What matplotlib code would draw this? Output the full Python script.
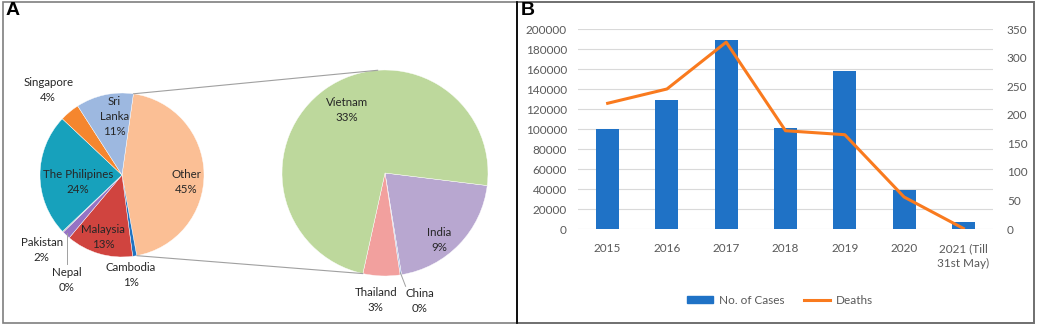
import numpy as np
import matplotlib
matplotlib.use("Agg")
import matplotlib.pyplot as plt
from matplotlib.patches import Rectangle, Patch
from matplotlib.lines import Line2D
from matplotlib.patches import ConnectionPatch

plt.rcParams['font.family'] = ['Lato', 'DejaVu Sans']

# panel A data
main_labels = ['Other', 'Cambodia', 'Malaysia', 'Pakistan', 'Nepal',
               'The Philipines', 'Singapore', 'Sri Lanka']
main_values = [44.9, 0.8, 13.2, 1.6, 0.2, 24.1, 3.9, 11.3]
main_colors = ['#FBBF95', '#1F73C0', '#D0443F', '#9673C4', '#A8A8A8',
               '#17A1BC', '#F5862E', '#9DB8E0']

sub_labels = ['India', 'China', 'Thailand', 'Vietnam']
sub_values = [9.2, 0.1, 2.6, 33.0]
sub_colors = ['#B8A7D0', '#9DB8E0', '#F2A09E', '#BDD89C']

# panel B data
years = ['2015', '2016', '2017', '2018', '2019', '2020', '2021 (Till\n31st May)']
cases = [100000, 129000, 188700, 101000, 158000, 39300, 7000]
deaths = [220, 245, 327, 172, 165, 56, 1]

W, H = 1038, 327
fig = plt.figure(figsize=(W / 100, H / 100), dpi=100)


def px_axes(cx, cy, r):
    return fig.add_axes([(cx - r) / W, (H - cy - r) / H, 2 * r / W, 2 * r / H])


def fmt(v):
    return f"{v:.0f}%"


# main pie
ax1 = px_axes(122, 175, 82)
w1, _ = ax1.pie(main_values, colors=main_colors, startangle=82, counterclock=False,
                wedgeprops=dict(edgecolor='white', linewidth=0.3))
ax1.set_xlim(-1, 1); ax1.set_ylim(-1, 1); ax1.set_aspect('equal')
ax1.axis('off')

main_pos = [(0.78, -0.09), (0.11, -1.22), (-0.23, -0.76), (-0.98, -0.91),
            (-0.67, -1.28), (-0.54, -0.09), (-0.90, 1.04), (-0.09, 0.71)]
for lab, v, (x, y) in zip(main_labels, main_values, main_pos):
    t = lab.replace('Sri ', 'Sri\n') if lab == 'Sri Lanka' else lab
    ax1.text(x, y, f"{t}\n{fmt(v)}", ha='center', va='center', fontsize=8.3,
             color='#262626', linespacing=1.45, clip_on=False)
# Nepal leader
ax1.plot([-0.67, -0.67], [-0.71, -1.08], color='#A0A0A0', lw=0.7, clip_on=False)

# sub pie
ax2 = px_axes(385, 173, 103)
w2, _ = ax2.pie(sub_values, colors=sub_colors, startangle=-7, counterclock=False,
                wedgeprops=dict(edgecolor='white', linewidth=0.3))
ax2.set_xlim(-1, 1); ax2.set_ylim(-1, 1); ax2.set_aspect('equal')
ax2.axis('off')

sub_pos = [(0.53, -0.65), (0.34, -1.24), (-0.09, -1.23), (-0.37, 0.61)]
for lab, v, (x, y) in zip(sub_labels, sub_values, sub_pos):
    ax2.text(x, y, f"{lab}\n{fmt(v)}", ha='center', va='center', fontsize=8.3,
             color='#262626', linespacing=1.45, clip_on=False)
ax2.plot([0.15, 0.2], [-0.97, -1.1], color='#A0A0A0', lw=0.7, clip_on=False)

# connector lines between the pies
a_top = np.deg2rad(w1[0].theta2)
a_bot = np.deg2rad(w1[0].theta1)
b_top = np.deg2rad(94)
b_bot = np.deg2rad(w2[2].theta1)
for a, b in [(a_top, b_top), (a_bot, b_bot)]:
    con = ConnectionPatch(xyA=(np.cos(a), np.sin(a)), coordsA=ax1.transData,
                          xyB=(np.cos(b), np.sin(b)), coordsB=ax2.transData,
                          color='#A0A0A0', lw=0.8)
    fig.add_artist(con)

# panel B
ax3 = fig.add_axes([578 / W, (H - 229) / H, (993 - 578) / W, (229 - 29) / H])
x = np.arange(len(years))
ax3.bar(x, cases, width=0.39, color='#1F72C6', zorder=3)
ax3.set_xlim(-0.5, len(years) - 0.5)
ax3.set_ylim(0, 200000)
ax3.set_yticks(np.arange(0, 200001, 20000))
ax3.set_xticks(x)
ax3.set_xticklabels(years, linespacing=1.4)
ax3.grid(axis='y', color='#D9D9D9', lw=0.8, zorder=0)
for s in ax3.spines.values():
    s.set_visible(False)
ax3.tick_params(length=0, labelsize=8.5, labelcolor='#595959', pad=8)
ax3.tick_params(axis='x', pad=10)

ax4 = ax3.twinx()
ax4.plot(x, deaths, color='#F97A1E', lw=2.2, zorder=4)
ax4.set_ylim(0, 350)
ax4.set_yticks(np.arange(0, 351, 50))
for s in ax4.spines.values():
    s.set_visible(False)
ax4.tick_params(length=0, labelsize=8.5, labelcolor='#595959', pad=10)

handles = [Patch(color='#1F72C6'), Line2D([0], [0], color='#F97A1E', lw=2.2)]
fig.legend(handles, ['No. of Cases', 'Deaths'], loc='center',
           bbox_to_anchor=(780 / W, 1 - 300 / H), ncol=2, frameon=False,
           fontsize=8.5, labelcolor='#595959', handlelength=2.2, columnspacing=1.6,
           handletextpad=0.5, handleheight=0.6)

# panel frames and letters
fig.add_artist(Rectangle((3 / W, (H - 323) / H), 514 / W, 321 / H,
                         transform=fig.transFigure, fill=False, ec='#7F7F7F', lw=1.2))
fig.add_artist(Rectangle((517 / W, (H - 323) / H), 517 / W, 321 / H,
                         transform=fig.transFigure, fill=False, ec='#6F6F6F', lw=1.4))
fig.add_artist(Line2D([517 / W, 517 / W], [(H - 323) / H, 1 - 2 / H],
                      transform=fig.transFigure, color='black', lw=1.2))
fig.text(6 / W, 1 - 2 / H, 'A', fontsize=14, fontweight='bold', va='top',
         family='Liberation Sans')
fig.text(521 / W, 1 - 2 / H, 'B', fontsize=14, fontweight='bold', va='top',
         family='Liberation Sans')

fig.savefig('out.png', dpi=100)
